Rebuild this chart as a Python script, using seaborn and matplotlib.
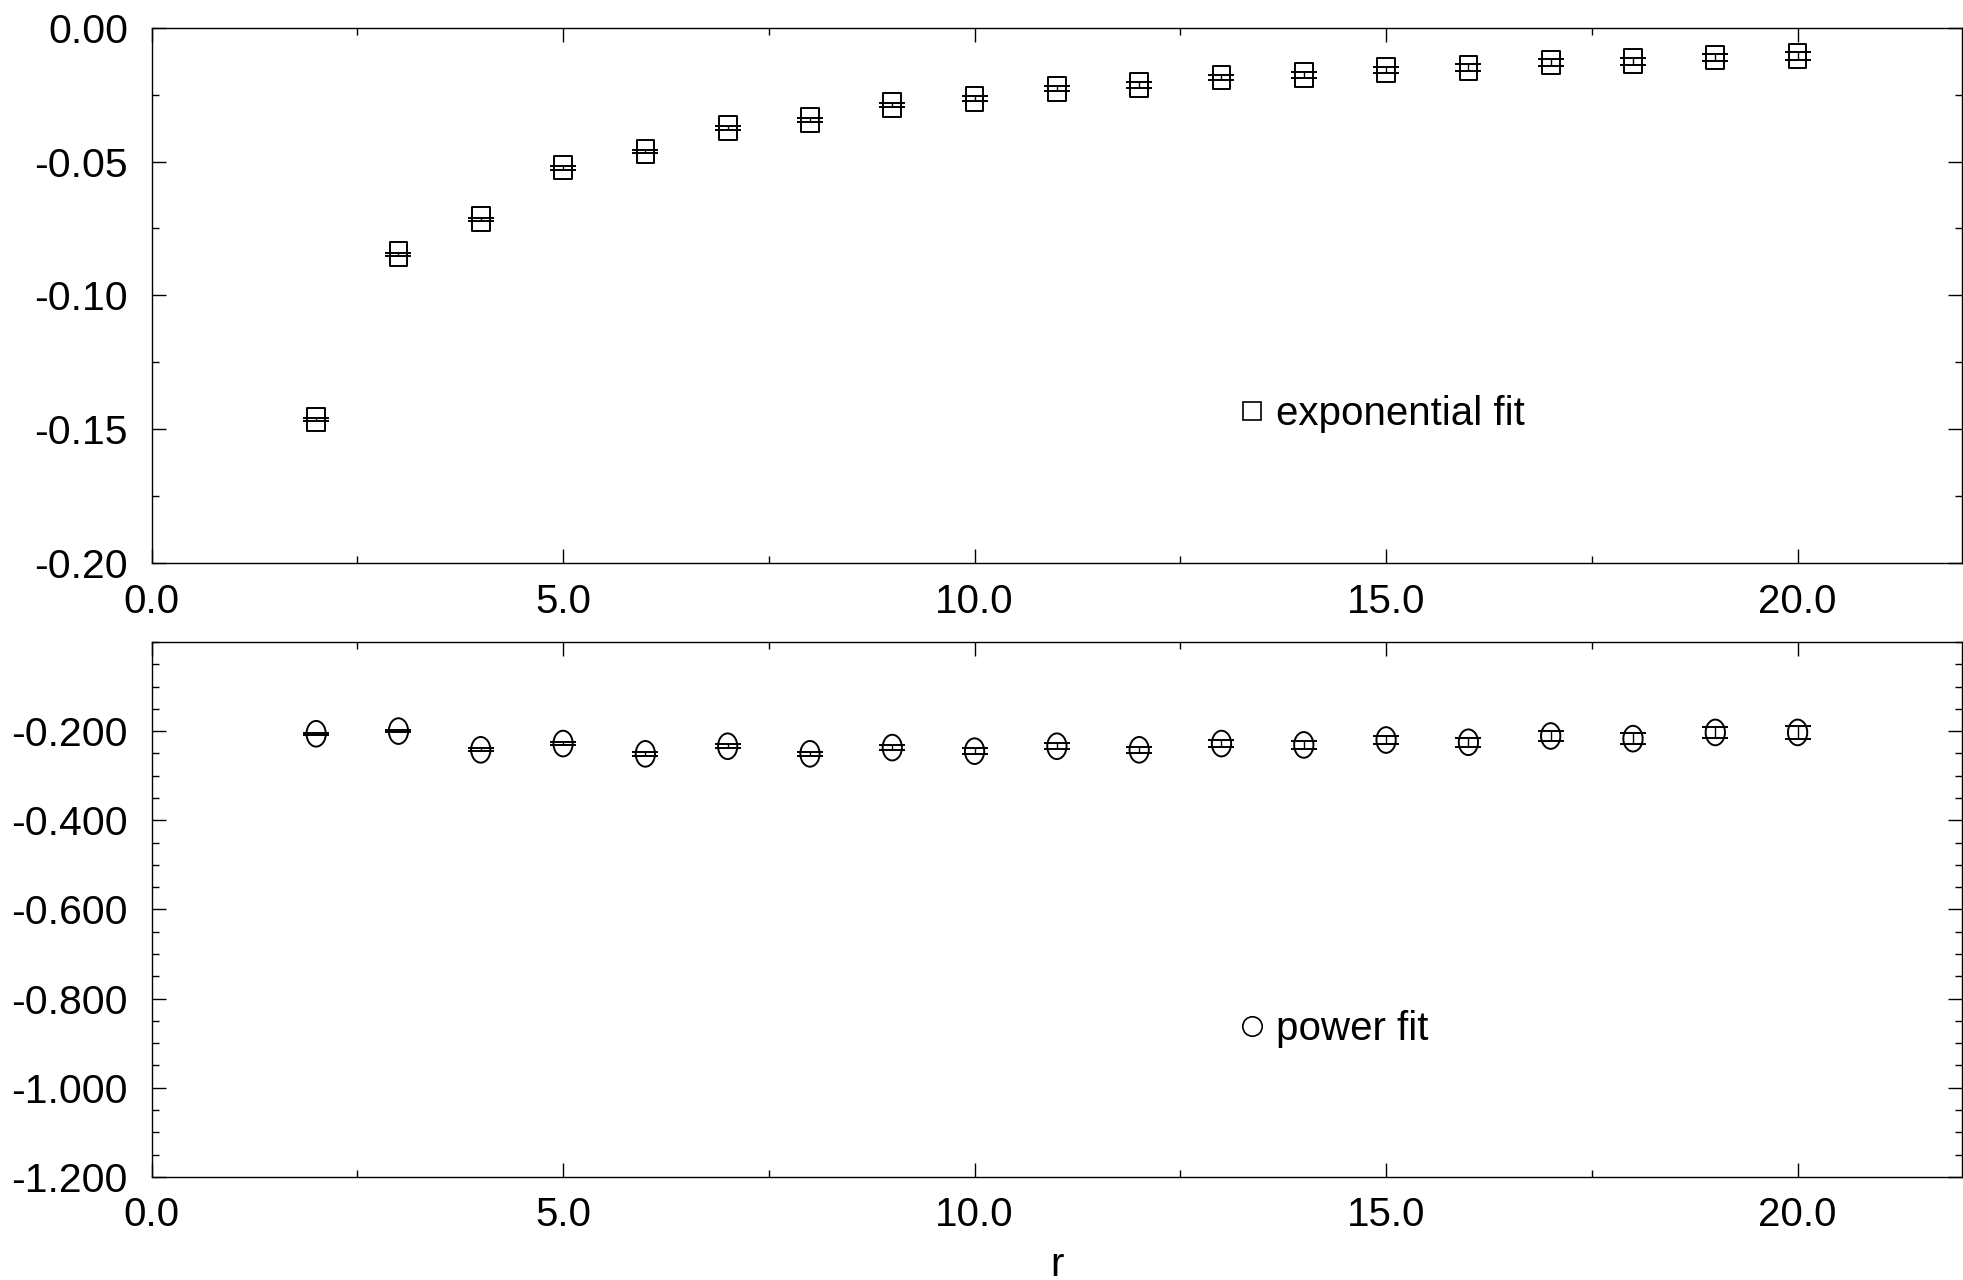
import numpy as np
import pandas as pd
import matplotlib
matplotlib.use('Agg')
import matplotlib.pyplot as plt
import seaborn as sns
from matplotlib.markers import MarkerStyle
from matplotlib.transforms import Affine2D
from matplotlib.lines import Line2D
from matplotlib.ticker import MultipleLocator, FormatStrFormatter

# data
r = [2, 3, 4, 5, 6, 7, 8, 9, 10, 11, 12, 13, 14, 15, 16, 17, 18, 19, 20]
exp_fit = [-0.1463, -0.0846, -0.0715, -0.0523, -0.0463, -0.0374, -0.0346, -0.0290, -0.0266,
           -0.0229, -0.0215, -0.0187, -0.0178, -0.0159, -0.0150, -0.0131, -0.0126, -0.0112, -0.0107]
exp_err = [0.0006, 0.0006, 0.0006, 0.0007, 0.0007, 0.0008, 0.0008, 0.0008, 0.0009,
           0.0009, 0.0010, 0.0010, 0.0011, 0.0011, 0.0012, 0.0012, 0.0013, 0.0014, 0.0015]
pow_fit = [-0.206, -0.200, -0.242, -0.228, -0.251, -0.234, -0.251, -0.237, -0.245,
           -0.234, -0.242, -0.228, -0.231, -0.220, -0.225, -0.211, -0.217, -0.203, -0.203]
pow_err = [0.002, 0.002, 0.003, 0.004, 0.004, 0.005, 0.005, 0.006, 0.006,
           0.007, 0.007, 0.008, 0.009, 0.010, 0.010, 0.011, 0.012, 0.013, 0.014]

df = pd.DataFrame({'r': r, 'exp': exp_fit, 'exp_err': exp_err, 'pow': pow_fit, 'pow_err': pow_err})

sns.set_style('ticks')
plt.rcParams['font.family'] = ['Liberation Sans', 'DejaVu Sans']
plt.rcParams['font.size'] = 28
plt.rcParams['text.color'] = 'black'
plt.rcParams['xtick.color'] = 'black'
plt.rcParams['ytick.color'] = 'black'
plt.rcParams['axes.labelcolor'] = 'black'

fig = plt.figure(figsize=(19.63, 12.80), dpi=100)
ax1 = fig.add_axes([0.0772, 0.5598, 0.9224, 0.4187])
ax2 = fig.add_axes([0.0772, 0.0805, 0.9224, 0.4180])

rect = MarkerStyle('s', transform=Affine2D().scale(0.75, 1.0))
ellip = MarkerStyle('o', transform=Affine2D().scale(0.75, 1.0))

# top panel: exponential fit
ax1.errorbar(df['r'], df['exp'], yerr=df['exp_err'], fmt='none', ecolor='black',
             elinewidth=1.0, capsize=9.5, capthick=1.4)
sns.scatterplot(data=df, x='r', y='exp', marker=rect, s=17**2, facecolor='none',
                edgecolor='black', linewidth=1.4, ax=ax1)

# bottom panel: power fit
ax2.errorbar(df['r'], df['pow'], yerr=df['pow_err'], fmt='none', ecolor='black',
             elinewidth=1.0, capsize=9.5, capthick=1.4)
sns.scatterplot(data=df, x='r', y='pow', marker=ellip, s=18.5**2, facecolor='none',
                edgecolor='black', linewidth=1.4, ax=ax2)

ax1.set_xlim(0, 22)
ax1.set_ylim(-0.2, 0.0)
ax1.yaxis.set_major_locator(MultipleLocator(0.05))
ax1.yaxis.set_minor_locator(MultipleLocator(0.025))
ax1.yaxis.set_major_formatter(FormatStrFormatter('%.2f'))

ax2.set_xlim(0, 22)
ax2.set_ylim(-1.2, 0.0)
ax2.set_yticks([-1.2, -1.0, -0.8, -0.6, -0.4, -0.2])
ax2.yaxis.set_minor_locator(MultipleLocator(0.05))
ax2.yaxis.set_major_formatter(FormatStrFormatter('%.3f'))

for ax in (ax1, ax2):
    ax.xaxis.set_major_locator(MultipleLocator(5))
    ax.xaxis.set_minor_locator(MultipleLocator(2.5))
    ax.xaxis.set_major_formatter(FormatStrFormatter('%.1f'))
    ax.tick_params(which='both', direction='in', top=True, right=True, width=1.0, color='black')
    ax.tick_params(which='major', length=10)
    ax.tick_params(which='minor', length=5)
    ax.tick_params(axis='y', which='major', pad=17, labelsize=29.5)
    ax.tick_params(axis='x', which='major', pad=14, labelsize=29)
    for s in ax.spines.values():
        s.set_linewidth(1.0)
        s.set_color('black')
    ax.set_ylabel('')
    ax.set_xlabel('')

ax2.set_xlabel('r', fontsize=29, labelpad=8)

h1 = Line2D([], [], marker='s', markersize=13, markerfacecolor='none', markeredgecolor='black',
            markeredgewidth=1.2, linestyle='none')
h2 = Line2D([], [], marker='o', markersize=14, markerfacecolor='none', markeredgecolor='black',
            markeredgewidth=1.2, linestyle='none')
ax1.legend([h1], ['exponential fit'], loc='center left', bbox_to_anchor=(0.581, 0.278),
           frameon=False, handlelength=0.6, handletextpad=0.3, fontsize=29)
ax2.legend([h2], ['power fit'], loc='center left', bbox_to_anchor=(0.581, 0.277),
           frameon=False, handlelength=0.6, handletextpad=0.3, fontsize=29)

fig.savefig('out.png', dpi=100)
